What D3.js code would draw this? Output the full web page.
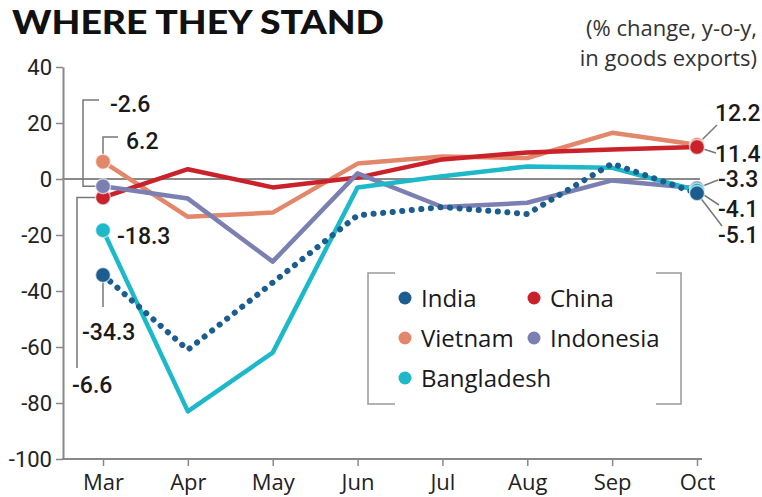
<!DOCTYPE html>
<html>
<head>
<meta charset="utf-8">
<script src="https://cdn.jsdelivr.net/npm/d3@7"></script>
<style>
  body { margin: 0; background: #fff; }
  svg { display: block; }
  .num { font-family: Roboto, "Liberation Sans", sans-serif; fill: #1a1a1a; }
  .hum { font-family: "Open Sans", "Noto Sans", sans-serif; fill: #1a1a1a; }
</style>
</head>
<body>
<div id="chart"></div>
<script>
// data
var months = ["Mar", "Apr", "May", "Jun", "Jul", "Aug", "Sep", "Oct"];
var yTicks = [40, 20, 0, -20, -40, -60, -80, -100];

var india      = [-34.3, -61, -37, -13, -10, -12.5, 5.5, -5.1];
var china      = [-6.6, 3.5, -3, 0.5, 7, 9.5, 10.5, 11.4];
var vietnam    = [6.2, -13.5, -12, 5.5, 8, 7.5, 16.5, 12.2];
var indonesia  = [-2.6, -7, -29.5, 2, -10, -8.5, -0.5, -3.3];
var bangladesh = [-18.3, -83, -62, -3, 1, 4.5, 4, -4.1];

var width = 762, height = 497;

var svg = d3.select("#chart").append("svg")
  .attr("width", width)
  .attr("height", height);

var x = d3.scalePoint().domain(months).range([103, 697]);
var y = d3.scaleLinear().domain([-100, 40]).range([459, 67]);

// plain hyphen instead of unicode minus
function hy(s){ return String(s).replace("\u2212", "-"); }

// title + note
svg.append("text")
  .attr("x", 12).attr("y", 34)
  .attr("textLength", 372).attr("lengthAdjust", "spacingAndGlyphs")
  .style("font-family", "Lato, 'Liberation Sans', sans-serif")
  .style("font-weight", 900)
  .style("font-size", "33px")
  .style("fill", "#111")
  .text("WHERE THEY STAND");

svg.append("text").attr("class", "hum")
  .attr("x", 757).attr("y", 36)
  .attr("text-anchor", "end")
  .style("font-size", "22px").style("fill", "#333")
  .text("(% change, y-o-y,");
svg.append("text").attr("class", "hum")
  .attr("x", 757).attr("y", 66)
  .attr("text-anchor", "end")
  .style("font-size", "22px").style("fill", "#333")
  .text("in goods exports)");

// y axis
var yAxis = svg.append("g")
  .attr("transform", "translate(63,0)")
  .call(d3.axisLeft(y).tickValues(yTicks).tickSize(7).tickSizeOuter(0).tickPadding(4)
    .tickFormat(function(d){ return hy(d); }));
yAxis.select(".domain").attr("stroke", "#888").attr("stroke-width", 2);
yAxis.selectAll(".tick line").attr("stroke", "#888").attr("stroke-width", 1.5);
yAxis.selectAll(".tick text")
  .attr("class", "num")
  .style("font-size", "22px")
  .style("fill", "#222");

// x axis
svg.append("line")
  .attr("x1", 62).attr("x2", 702)
  .attr("y1", y(-100)).attr("y2", y(-100))
  .attr("stroke", "#888").attr("stroke-width", 2);
var xAxis = svg.append("g")
  .attr("transform", "translate(0," + y(-100) + ")")
  .call(d3.axisBottom(x).tickSize(7).tickSizeOuter(0).tickPadding(8));
xAxis.select(".domain").remove();
xAxis.selectAll(".tick line").attr("stroke", "#888").attr("stroke-width", 1.5);
xAxis.selectAll(".tick text")
  .attr("class", "hum")
  .style("font-size", "22px")
  .style("fill", "#222");

// zero line
svg.append("line")
  .attr("x1", 62).attr("x2", 700)
  .attr("y1", y(0)).attr("y2", y(0))
  .attr("stroke", "#8a8a8a").attr("stroke-width", 2);

var series = [
  { name: "Vietnam", values: vietnam, color: "#e3876b" },
  { name: "China", values: china, color: "#c9222b" },
  { name: "Indonesia", values: indonesia, color: "#7b7fb2" },
  { name: "Bangladesh", values: bangladesh, color: "#1db9c9" },
  { name: "India", values: india, color: "#1b5d8e", dotted: true }
];

var line = d3.line()
  .x(function(d, i){ return x(months[i]); })
  .y(function(d){ return y(d); });

series.forEach(function(s){
  svg.append("path")
    .attr("d", line(s.values))
    .attr("fill", "none")
    .attr("stroke", s.color)
    .attr("stroke-width", s.dotted ? 6 : 4.5)
    .attr("stroke-linecap", "round")
    .attr("stroke-linejoin", "round")
    .attr("stroke-dasharray", s.dotted ? "0.1 9.5" : null);
});

// leader lines + value labels at start and end
var lead = svg.append("g")
  .attr("fill", "none")
  .attr("stroke", "#777")
  .attr("stroke-width", 1.5);

var x0 = x("Mar"), x1 = x("Oct");
lead.append("path").attr("d", "M" + (x0 - 4) + "," + y(-2.6) + "H83V100H99");
lead.append("path").attr("d", "M" + x0 + "," + y(6.2) + "V137H118");
lead.append("path").attr("d", "M" + x0 + "," + y(-34.3) + "V307");
lead.append("path").attr("d", "M" + (x0 - 4) + "," + y(-6.6) + "H77V368");

lead.append("path").attr("d", "M" + x1 + "," + y(12.2) + "L717,125");
lead.append("path").attr("d", "M" + x1 + "," + y(11.4) + "L716,153");
lead.append("path").attr("d", "M" + x1 + "," + y(-3.3) + "L718,180");
lead.append("path").attr("d", "M" + x1 + "," + y(-4.1) + "L719,205");
lead.append("path").attr("d", "M" + x1 + "," + y(-5.1) + "L722,226");

// end dots
series.forEach(function(s){
  [0, s.values.length - 1].forEach(function(i){
    svg.append("circle")
      .attr("cx", x(months[i]))
      .attr("cy", y(s.values[i]))
      .attr("r", 7.5)
      .attr("fill", s.color)
      .attr("stroke", "#fff")
      .attr("stroke-opacity", 0.6)
      .attr("stroke-width", 1.5);
  });
});

var labels = [
  { v: indonesia[0], x: 110, y: 112 },
  { v: vietnam[0], x: 126, y: 149 },
  { v: bangladesh[0], x: 117, y: 244 },
  { v: india[0], x: 82, y: 340 },
  { v: china[0], x: 72, y: 393 },
  { v: vietnam[7], x: 715, y: 121 },
  { v: china[7], x: 715, y: 162 },
  { v: indonesia[7], x: 718, y: 187 },
  { v: bangladesh[7], x: 718, y: 217 },
  { v: india[7], x: 718, y: 243 }
];

svg.selectAll(".vlab")
  .data(labels)
  .enter().append("text")
  .attr("class", "num vlab")
  .attr("x", function(d){ return d.x; })
  .attr("y", function(d){ return d.y; })
  .style("font-size", "23px")
  .style("font-weight", 500)
  .text(function(d){ return hy(d3.format(".1f")(d.v)); });

// legend box (bracket corners)
var box = svg.append("g").attr("fill", "none").attr("stroke", "#999").attr("stroke-width", 1.5);
box.append("path").attr("d", "M395,273H368V404H395");
box.append("path").attr("d", "M656,273H681V404H656");

var legendItems = [
  { name: "India", color: "#1b5d8e", col: 0, row: 0 },
  { name: "China", color: "#c9222b", col: 1, row: 0 },
  { name: "Vietnam", color: "#e3876b", col: 0, row: 1 },
  { name: "Indonesia", color: "#7b7fb2", col: 1, row: 1 },
  { name: "Bangladesh", color: "#1db9c9", col: 0, row: 2 }
];
var legend = svg.selectAll(".leg")
  .data(legendItems)
  .enter().append("g")
  .attr("class", "leg")
  .attr("transform", function(d){
    return "translate(" + (405 + d.col * 129) + "," + (298 + d.row * 40) + ")";
  });
legend.append("circle")
  .attr("r", 6.5)
  .attr("fill", function(d){ return d.color; });
legend.append("text")
  .attr("class", "hum")
  .attr("x", 16).attr("y", 9)
  .style("font-size", "24px")
  .text(function(d){ return d.name; });
</script>
</body>
</html>
